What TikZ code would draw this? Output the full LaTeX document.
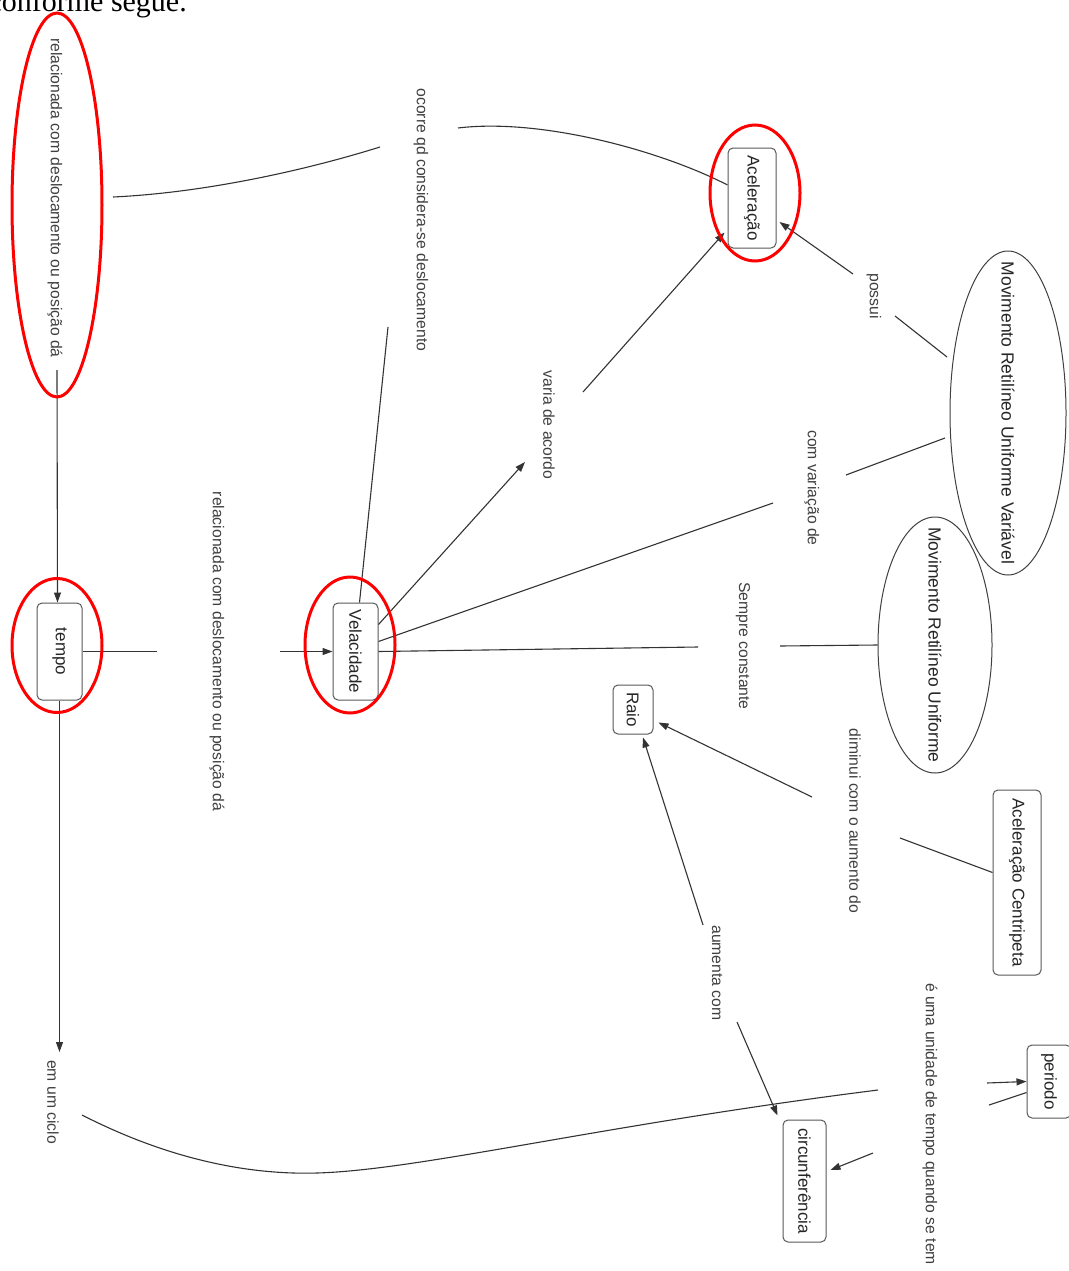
\documentclass[tikz,border=0pt]{standalone}
\usepackage{fontspec}
\usepackage{graphicx}
\setmainfont{Liberation Sans}
\newfontfamily\introfont{Liberation Serif}
\usetikzlibrary{shapes.geometric,arrows.meta,calc}
\newcommand{\vtext}[1]{\rotatebox{-90}{#1}}

\begin{document}
\begin{tikzpicture}[x=1pt,y=-1pt,
  line/.style={draw=black!80, line width=1.1pt},
  arr/.style={line, -{Triangle[length=10pt,width=7pt]}},
  concept/.style={draw=black!65, line width=1pt, rounded corners=5pt, inner sep=0pt,
    font=\fontsize{17}{20}\selectfont, text=black!85},
  oval/.style={draw=black!75, line width=1pt, ellipse, inner sep=0pt},
  ovaltext/.style={inner sep=0pt, font=\fontsize{17.5}{20}\selectfont, text=black!85},
  linktext/.style={inner sep=0pt, font=\fontsize{15.7}{18}\selectfont, text=black!75},
  ring/.style={draw=red, line width=3pt}
]
\useasboundingbox (0,0) rectangle (1068,1271);
\fill[white] (0,0) rectangle (1068,1271);

% heading fragment above the map
\node[anchor=base east, inner sep=0pt, font=\introfont\fontsize{30}{34}\selectfont] (intro) at (187,12) {conforme segue.};

% concepts
\node[concept, minimum width=45, minimum height=97] (tempo) at (59.5,651.5) {\vtext{tempo}};
\node[concept, minimum width=45, minimum height=97] (vel) at (355.5,651.5) {\vtext{Velacidade}};
\node[concept, minimum width=48, minimum height=100] (acel) at (752,198) {\vtext{Aceleração}};
\node[concept, minimum width=40, minimum height=49] (raio) at (633,709.5) {\vtext{Raio}};
\node[concept, minimum width=48, minimum height=185] (acent) at (1017,882.5) {\vtext{Aceleração Centripeta}};
\node[concept, minimum width=43, minimum height=122] (circ) at (804.5,1181) {\vtext{circunferência}};
\node[concept, minimum width=44, minimum height=73] (per) at (1049,1081.5) {\vtext{periodo}};
\node[oval, minimum width=116, minimum height=324,
  label={[ovaltext]center:\vtext{Movimento Retilíneo Uniforme Variável}}] (mruv) at (1008,413) {};
\node[oval, minimum width=114, minimum height=256,
  label={[ovaltext]center:\vtext{Movimento Retilíneo Uniforme}}] (mru) at (935,645) {};

% linking phrases
\node[linktext] (l1) at (55,198) {\vtext{relacionada com deslocamento ou posição dá}};
\node[linktext] (l2) at (421,220) {\vtext{ocorre qd considera-se deslocamento}};
\node[linktext] (l3) at (874,296) {\vtext{possui}};
\node[linktext] (l4) at (812,488) {\vtext{com variação de}};
\node[linktext] (l5) at (549,425) {\vtext{varia de acordo}};
\node[linktext] (l6) at (217,651.5) {\vtext{relacionada com deslocamento ou posição dá}};
\node[linktext] (l7) at (743,646) {\vtext{Sempre constante}};
\node[linktext] (l8) at (855,821) {\vtext{diminui com o aumento do}};
\node[linktext] (l9) at (717,973) {\vtext{aumenta com}};
\node[linktext] (l10) at (930,1124) {\vtext{é uma unidade de tempo quando se tem}};
\node[linktext] (l11) at (53,1102) {\vtext{em um ciclo}};

% connectors
\draw[line] ($(l1)+(58,-1)$) .. controls +(87,-4) and +(-80,25) .. ($(l2)+(-41,-73)$);
\draw[line] ($(l2)+(37,-92)$) .. controls +(82,-10) and +(-68,-35) .. ($(acel.west)+(0,-13)$);
\draw[line] ($(vel.north)+(4,0)$) -- ($(l2)+(-33,107)$);
\draw[arr] ($(l1)+(2,172)$) -- ($(tempo.north)+(-2,0)$);
\draw[line] (tempo.east) -- ($(l6)+(-60,0)$);
\draw[arr] ($(l6)+(63,0)$) -- (vel.west);
\draw[arr] (tempo.south) -- ($(l11)+(6.5,-50)$);
\draw[line] ($(l11)+(29,13)$) .. controls +(88,45) and +(-67,2) .. ($(l11)+(264,71)$)
  .. controls +(103,-3) and +(-278,35) .. ($(l10)+(-52,-34)$);
\draw[line] ($(mruv)+(-61,-56)$) -- ($(l3)+(21,20)$);
\draw[arr] ($(l3)+(-21,-22)$) -- ($(acel.east)+(3,24)$);
\draw[line] ($(mruv)+(-63,25)$) -- ($(l4)+(34,-13)$);
\draw[line] ($(l4)+(-39,15)$) -- ($(vel.east)+(0,-10)$);
\draw[arr] ($(vel.east)+(0,-27)$) -- ($(l5)+(-24,37)$);
\draw[arr] ($(l5)+(34,-33)$) -- ($(acel.south west)+(-3,-16)$);
\draw[line] (vel.east) -- ($(l7)+(-45,1)$);
\draw[line] ($(l7)+(37,0)$) -- (mru.west);
\draw[line] ($(acent.west)+(0,-10)$) -- ($(l8)+(45,17)$);
\draw[arr] ($(l8)+(-43,-24)$) -- ($(raio.east)+(5,13)$);
\draw[arr] ($(l9)+(-14,-48)$) -- ($(raio.south)+(10,3)$);
\draw[arr] ($(l9)+(20,49)$) -- ($(circ.north west)+(-5,-4)$);
\draw[arr] ($(l10)+(57,-41)$) -- (per.west);
\draw[line] ($(per.west)+(0,11)$) -- ($(l10)+(59,-19)$);
\draw[arr] ($(l10)+(-57,29)$) -- ($(circ.east)+(4,-11)$);

% red highlight rings
\draw[ring] (57,205) ellipse [x radius=45, y radius=192];
\draw[ring] (755,193) ellipse [x radius=45, y radius=68];
\draw[ring] (350,645) ellipse [x radius=45, y radius=68];
\draw[ring] (57,645.5) ellipse [x radius=45, y radius=67];
\end{tikzpicture}
\end{document}
